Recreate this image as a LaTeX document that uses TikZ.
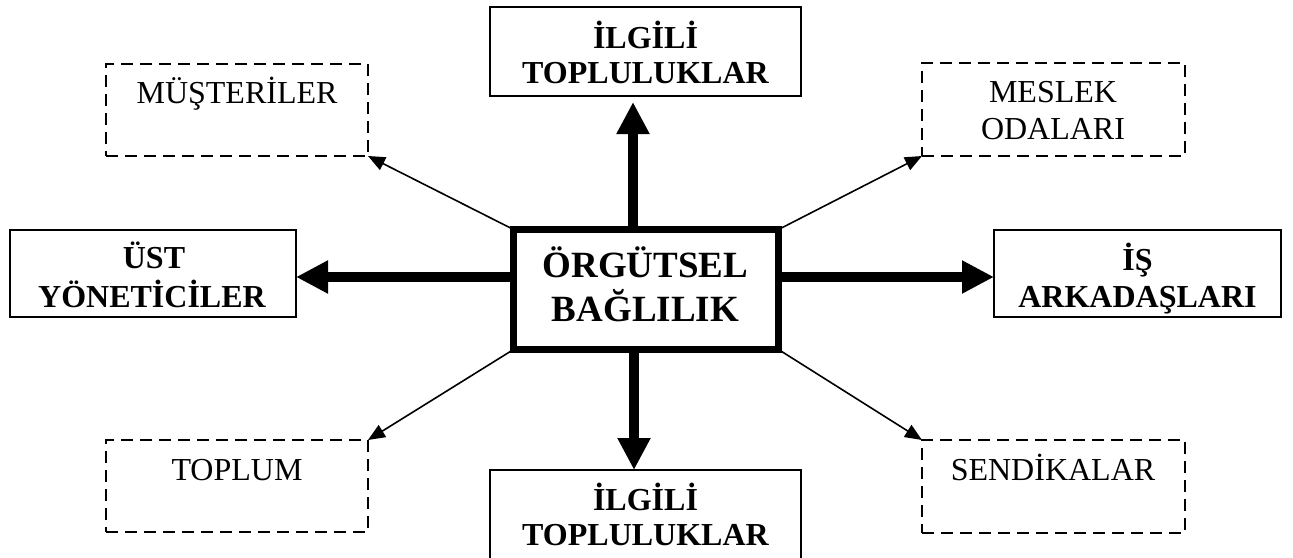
\documentclass[tikz,border=0pt]{standalone}
\usepackage{fontspec}
\setmainfont{Liberation Serif}
\usetikzlibrary{arrows.meta}
\begin{document}
\begin{tikzpicture}[x=1pt,y=-1pt,
  solidbox/.style={draw, line width=2.2pt, outer sep=0pt, inner sep=0pt},
  dashbox/.style={draw, line width=2.2pt, dash pattern=on 12pt off 7pt, outer sep=0pt, inner sep=0pt},
  corebox/.style={draw, line width=7pt, outer sep=0pt, inner sep=0pt},
  boldtxt/.style={anchor=base, inner sep=0pt, font=\fontsize{32}{38}\selectfont\bfseries},
  plaintxt/.style={anchor=base, inner sep=0pt, font=\fontsize{32}{38}\selectfont},
  coretxt/.style={anchor=base, inner sep=0pt, font=\fontsize{37}{44}\selectfont\bfseries},
  bigarrow/.style={line width=9.5pt, -{Triangle[length=32pt,width=31pt]}},
  thinarrow/.style={line width=1.6pt, -{Triangle[length=17pt,width=14pt]}}]
\useasboundingbox (0,0) rectangle (1293,557);

% central box
\node[corebox, minimum width=265pt, minimum height=120pt] (core) at (646,289.5) {};
\node[coretxt] (core1) at (645.5,277) {ÖRGÜTSEL};
\node[coretxt] (core2) at (645.5,321) {BAĞLILIK};

% solid boxes
\node[solidbox, minimum width=311pt, minimum height=89pt] (top) at (645.5,51.5) {};
\node[boldtxt] (top1) at (645.5,48) {İLGİLİ};
\node[boldtxt] (top2) at (645.5,83) {TOPLULUKLAR};

\node[solidbox, minimum width=311pt, minimum height=130pt] (bot) at (645.5,535) {};
\node[boldtxt] (bot1) at (645.5,510) {İLGİLİ};
\node[boldtxt] (bot2) at (645.5,545) {TOPLULUKLAR};

\node[solidbox, minimum width=286pt, minimum height=87pt] (lbox) at (153,273.5) {};
\node[boldtxt] (lbox1) at (154,268) {ÜST};
\node[boldtxt] (lbox2) at (152,307) {YÖNETİCİLER};

\node[solidbox, minimum width=287pt, minimum height=87pt] (rbox) at (1137.5,273.5) {};
\node[boldtxt] (rbox1) at (1137.5,270) {İŞ};
\node[boldtxt] (rbox2) at (1137.5,307) {ARKADAŞLARI};

% dashed boxes
\node[dashbox, minimum width=262pt, minimum height=92pt] (mus) at (237,110) {};
\node[plaintxt] (mus1) at (237,103) {MÜŞTERİLER};

\node[dashbox, minimum width=263pt, minimum height=93pt] (mes) at (1053.5,109.5) {};
\node[plaintxt] (mes1) at (1053,102) {MESLEK};
\node[plaintxt] (mes2) at (1053,139) {ODALARI};

\node[dashbox, minimum width=262pt, minimum height=92pt] (tpl) at (237,486) {};
\node[plaintxt] (tpl1) at (237,480) {TOPLUM};

\node[dashbox, minimum width=263pt, minimum height=93pt] (sen) at (1053.5,486.5) {};
\node[plaintxt] (sen1) at (1053,480) {SENDİKALAR};

% thick arrows
\draw[bigarrow] ([xshift=-13pt]core.north) -- ([xshift=-12.5pt,yshift=-6pt]top.south);
\draw[bigarrow] ([xshift=-12pt]core.south) -- ([xshift=-11.5pt]bot.north);
\draw[bigarrow] ([yshift=12.5pt]core.west) -- ([yshift=-3.5pt]lbox.east);
\draw[bigarrow] ([yshift=12.5pt]core.east) -- ([yshift=-3.5pt]rbox.west);

% thin arrows
\draw[thinarrow] (core.north west) -- (mus.south east);
\draw[thinarrow] (core.north east) -- (mes.south west);
\draw[thinarrow] (core.south west) -- (tpl.north east);
\draw[thinarrow] (core.south east) -- (sen.north west);
\end{tikzpicture}
\end{document}
